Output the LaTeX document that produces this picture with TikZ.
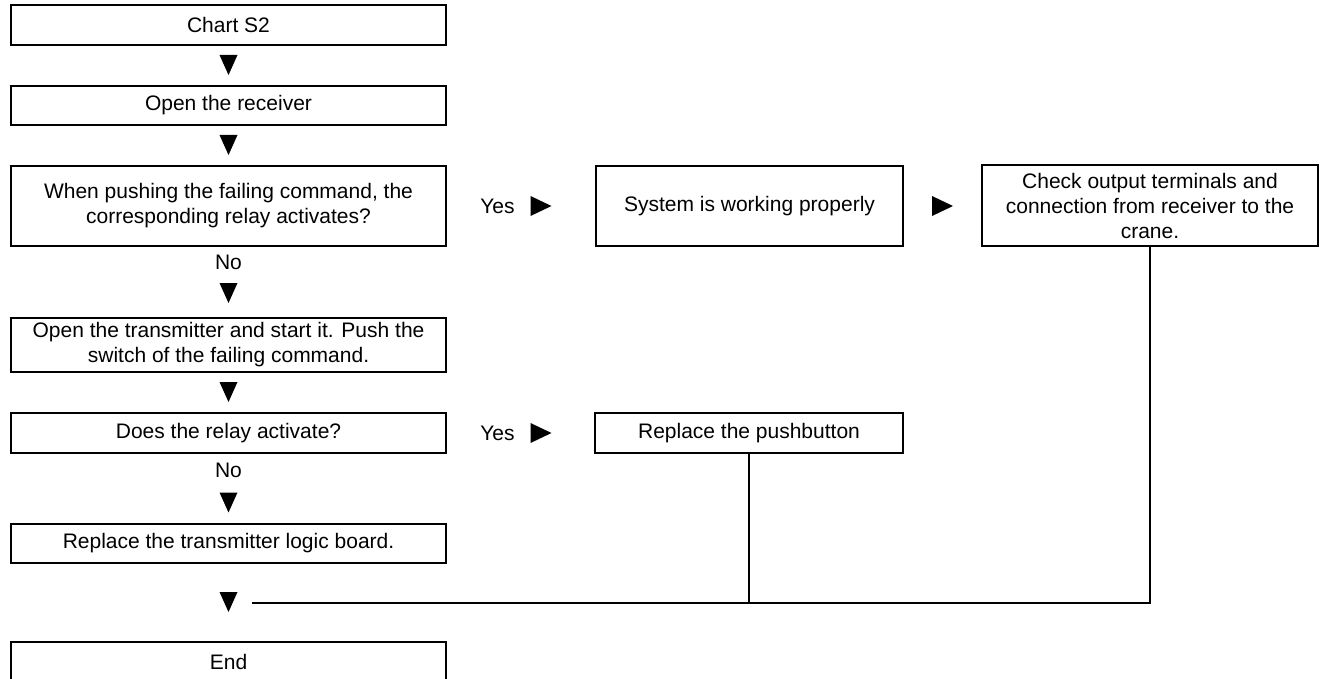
\documentclass[tikz,border=0pt]{standalone}
\usepackage{fontspec}
\setmainfont{Liberation Sans}

\tikzset{
    stepbox/.style={draw, line width=2.4pt, inner sep=0pt, align=center,
        minimum width=435pt, font=\fontsize{21pt}{25pt}\selectfont},
    plaintext/.style={inner sep=0pt, font=\fontsize{21pt}{25pt}\selectfont},
    link/.style={line width=1.8pt},
    % filled marks (y axis points down, so +10 is below)
    downtri/.pic={\fill (-9,-10) -- (9,-10) -- (0,10) -- cycle;},
    righttri/.pic={\fill (-10.5,-10) -- (-10.5,10) -- (10.5,0) -- cycle;}
}

\begin{document}
\begin{tikzpicture}[x=1pt, y=-1pt]
    \useasboundingbox (0,0) rectangle (1320,679);

    % 1. The boxes (Nodes)
    % Main column
    \node[stepbox, minimum height=40pt] (chart)  at (228.5, 25)    {Chart S2};
    \node[stepbox, minimum height=39pt] (open)   at (228.5, 105.5) {Open the receiver};
    \node[stepbox, minimum height=80pt] (push)   at (228.5, 206)   {When pushing the failing command, the\\corresponding relay activates?};
    \node[stepbox, minimum height=54pt] (trans)  at (228.5, 345)   {Open the transmitter and start it. Push the\\switch of the failing command.};
    \node[stepbox, minimum height=40pt] (relay)  at (228.5, 433)   {Does the relay activate?};
    \node[stepbox, minimum height=39pt] (logic)  at (228.5, 543.5) {Replace the transmitter logic board.};
    \node[stepbox, minimum height=40pt] (finish) at (228.5, 662)   {End};

    % Side boxes
    \node[stepbox, minimum width=307pt, minimum height=80pt] (sysok)   at (749.5, 206) {System is working properly};
    \node[stepbox, minimum width=336pt, minimum height=81pt] (check)   at (1150, 205.5) {Check output terminals and\\connection from receiver to the\\crane.};
    \node[stepbox, minimum width=308pt, minimum height=40pt] (pushbtn) at (749, 433)   {Replace the pushbutton};

    % 2. Yes / No texts
    \node[plaintext] (yes1) at (497.5, 206) {Yes};
    \node[plaintext] (yes2) at (497.5, 433) {Yes};
    \node[plaintext] (no1)  at (228.5, 262) {No};
    \node[plaintext] (no2)  at (228.5, 470) {No};

    % 3. The marks between the boxes
    \foreach \y in {65, 145, 293, 392, 502.5, 602}
        \pic at (228.5, \y) {downtri};
    \pic at (541, 206)   {righttri};
    \pic at (942.5, 206) {righttri};
    \pic at (541, 433)   {righttri};

    % 4. The lines back to the end
    \coordinate (merge) at (252, 603);
    \draw[link] (check.south) |- (merge);
    \draw[link] (pushbtn.south) -- (pushbtn.south |- merge);

\end{tikzpicture}
\end{document}
